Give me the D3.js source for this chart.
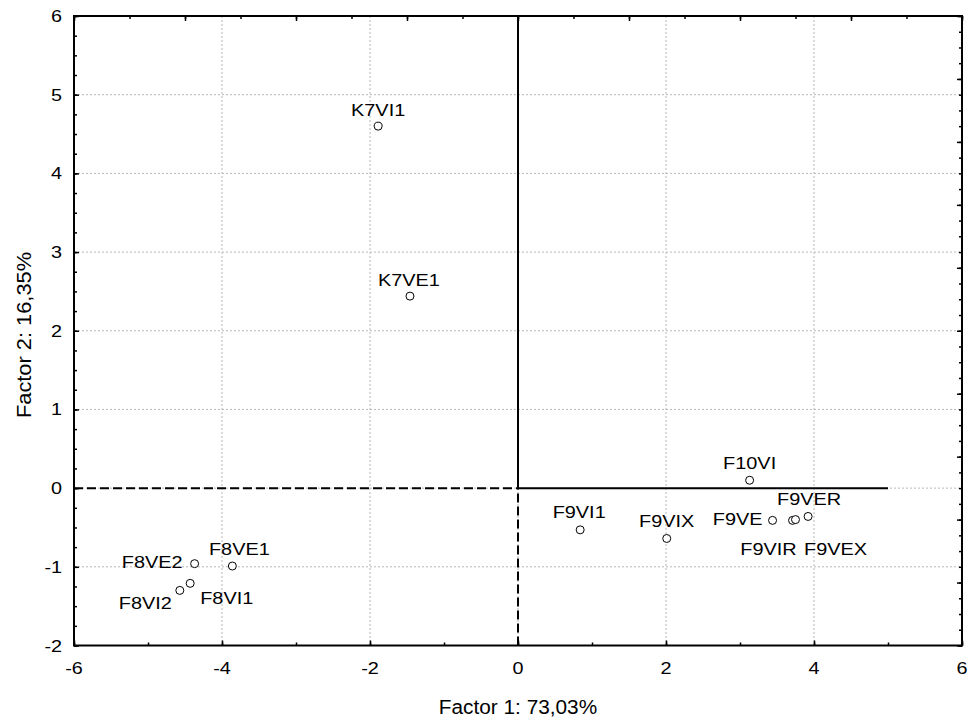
<!DOCTYPE html>
<html><head><meta charset="utf-8">
<script src="https://cdn.jsdelivr.net/npm/d3@7"></script>
<style>body{margin:0;background:#fff}svg{display:block}text{font-family:"Liberation Sans",Arial,sans-serif;fill:#000}</style>
</head><body>
<svg id="c" width="971" height="721"></svg>
<script>
// ---- data ----
const names  = ["K7VI1","K7VE1","F10VI","F9VE","F9VIR","F9VEX","F9VER","F9VI1","F9VIX","F8VE2","F8VE1","F8VI1","F8VI2"];
const factor1 = [-1.89,-1.46,3.13,3.44,3.71,3.75,3.92,0.84,2.01,-4.37,-3.86,-4.43,-4.57];
const factor2 = [4.60,2.44,0.10,-0.41,-0.41,-0.40,-0.36,-0.53,-0.64,-0.96,-0.99,-1.21,-1.30];
const xTicks = [-6,-4,-2,0,2,4,6];
const yTicks = [-2,-1,0,1,2,3,4,5,6];
const xTitle = "Factor 1: 73,03%";
const yTitle = "Factor 2: 16,35%";
// label placement (layout): anchor, dx, dy in px
const labelPlace = [
  ["middle",0,-10],["middle",-1,-10],["middle",0,-11],["end",-10,5],["middle",-24,35],["middle",40,35],
  ["middle",1,-11],["middle",-1,-12],["middle",0,-11],["end",-12,4],["middle",7,-11],["start",10,21],["end",-8,19]
];

const svg = d3.select("#c");
const L=74,R=962,T=16,B=645.5;
const x = d3.scaleLinear().domain([-6,6]).range([L,R]);
const y = d3.scaleLinear().domain([-2,6]).range([B,T]);

function stext(g, tx, ty, str, size, sx, anchor, rot){
  return g.append("text")
    .attr("transform",`translate(${tx},${ty})`+(rot?` rotate(${rot})`:"")+` scale(${sx},1)`)
    .attr("text-anchor",anchor).attr("font-size",size).text(str);
}

// grid
const grid = svg.append("g").attr("stroke","#b8b8b8").attr("stroke-width",1).attr("stroke-dasharray","2,2");
xTicks.filter(v=>v>-6&&v<6).forEach(v=>grid.append("line").attr("x1",x(v)).attr("x2",x(v)).attr("y1",T).attr("y2",B));
yTicks.filter(v=>v>-2&&v<6).forEach(v=>grid.append("line").attr("y1",y(v)).attr("y2",y(v)).attr("x1",L).attr("x2",R));

// reference lines
const ref = svg.append("g").attr("stroke","#000").attr("stroke-width",2).attr("fill","none");
ref.append("line").attr("x1",x(-6)).attr("x2",x(0)).attr("y1",y(0)).attr("y2",y(0)).attr("stroke-dasharray","9,4");
ref.append("line").attr("x1",x(0)).attr("x2",x(5)).attr("y1",y(0)).attr("y2",y(0));
ref.append("line").attr("x1",x(0)).attr("x2",x(0)).attr("y1",y(0)).attr("y2",y(6));
ref.append("line").attr("x1",x(0)).attr("x2",x(0)).attr("y1",y(-2)).attr("y2",y(0)).attr("stroke-dasharray","9,4");

// axes with inward ticks
const bottomMinor = d3.axisTop(x).tickValues(d3.range(-6,6.01,1)).tickSize(3).tickFormat("");
const bottomMajor = d3.axisTop(x).tickValues(xTicks).tickSize(5).tickFormat("");
const leftMinor = d3.axisRight(y).tickValues(d3.range(-2,6.01,0.25)).tickSize(3).tickFormat("");
const leftMajor = d3.axisRight(y).tickValues(yTicks).tickSize(5).tickFormat("");
const topMinor = d3.axisBottom(x).tickValues(d3.range(-6,6.01,0.75)).tickSize(3).tickFormat("");
const topMajor = d3.axisBottom(x).tickValues(d3.range(-6,6.01,1.5)).tickSize(5).tickFormat("");
const rightMinor = d3.axisLeft(y).tickValues(d3.range(-2,6.01,0.2)).tickSize(3).tickFormat("");
const rightMajor = d3.axisLeft(y).tickValues(d3.range(-2,6.01,0.8)).tickSize(5).tickFormat("");
function put(ax, tr){
  const g = svg.append("g").attr("transform",tr).call(ax);
  g.select(".domain").remove();
  g.selectAll(".tick line").attr("stroke","#000").attr("stroke-width",1.5);
}
put(bottomMinor,`translate(0,${B})`); put(bottomMajor,`translate(0,${B})`);
put(leftMinor,`translate(${L},0)`); put(leftMajor,`translate(${L},0)`);
put(topMinor,`translate(0,${T})`); put(topMajor,`translate(0,${T})`);
put(rightMinor,`translate(${R},0)`); put(rightMajor,`translate(${R},0)`);

// frame
svg.append("rect").attr("x",L).attr("y",T).attr("width",R-L).attr("height",B-T)
  .attr("fill","none").attr("stroke","#000").attr("stroke-width",2);

// tick labels
const tl = svg.append("g");
xTicks.forEach(v=>stext(tl, x(v), 674, String(v), 16.5, 1.2, "middle"));
yTicks.forEach(v=>stext(tl, 62, y(v)+6, String(v), 16.5, 1.2, "end"));

// titles
stext(svg, (L+R)/2, 714, xTitle, 20, 1.04, "middle");
stext(svg, 31, 335, yTitle, 21, 1.04, "middle", -90);

// points
const pts = svg.append("g");
names.forEach((n,i)=>{
  const px=x(factor1[i]), py=y(factor2[i]);
  pts.append("circle").attr("cx",px).attr("cy",py).attr("r",4).attr("fill","#fff").attr("stroke","#000").attr("stroke-width",1);
  const p=labelPlace[i];
  stext(pts, px+p[1], py+p[2], n, 17, 1.17, p[0]);
});
</script>
</body></html>
